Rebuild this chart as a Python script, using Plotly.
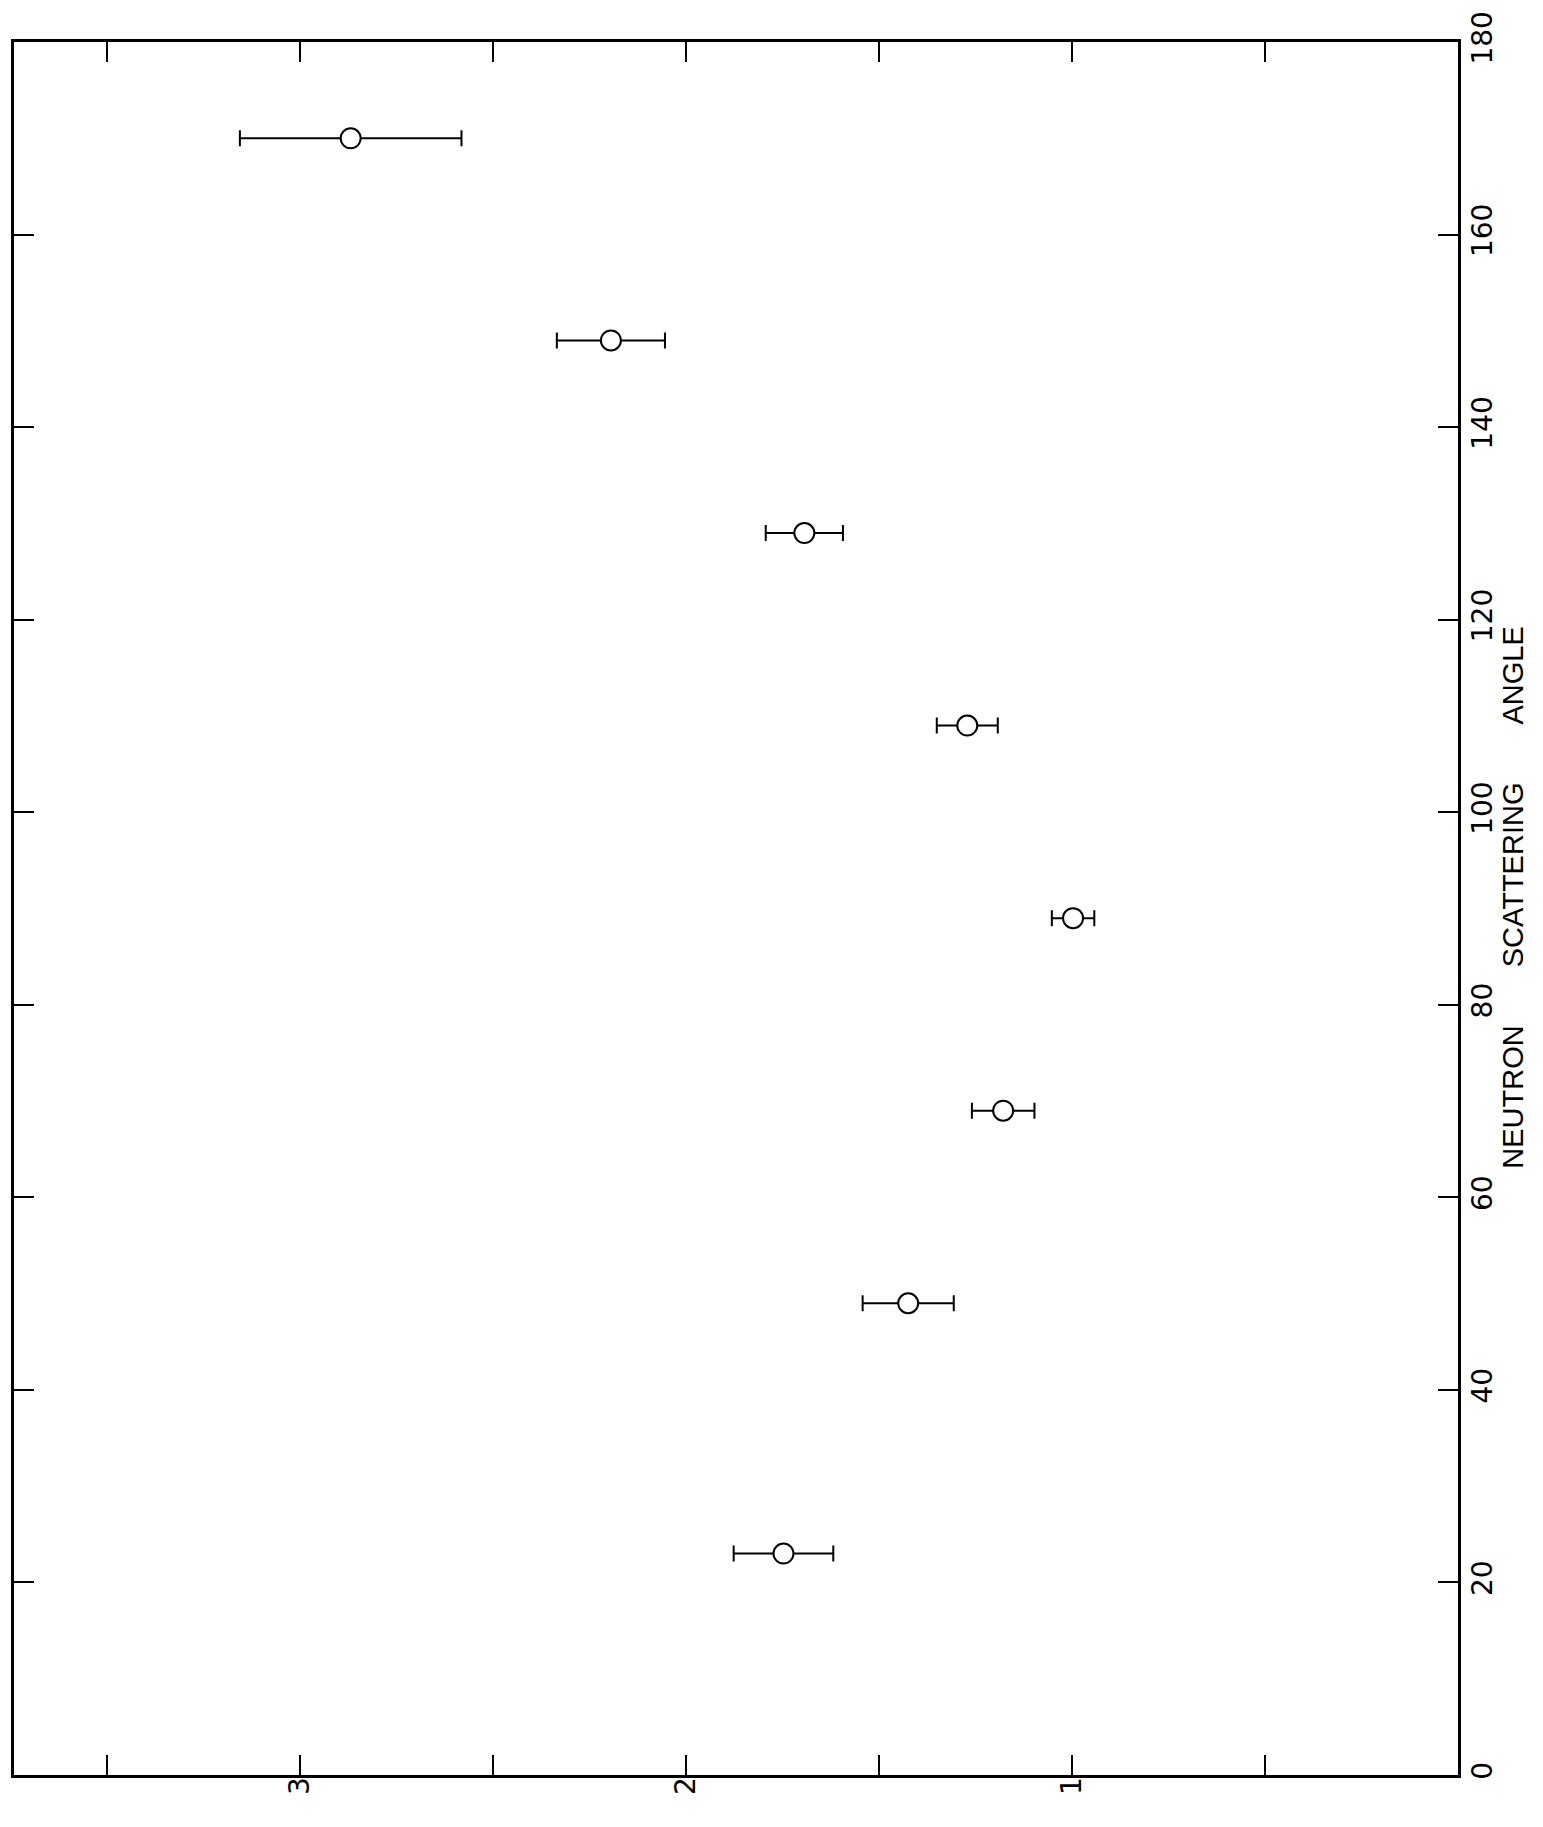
import plotly.graph_objects as go

# Data (angle in degrees, ratio value with +/- error)
angles = [23, 49, 69, 89, 109, 129, 149, 170]
values = [1.747, 1.424, 1.178, 0.997, 1.271, 1.693, 2.194, 2.868]
errors = [0.129, 0.118, 0.081, 0.055, 0.079, 0.100, 0.140, 0.287]

value_tickvals = [0.5, 1, 1.5, 2, 2.5, 3, 3.5]
value_ticktext = ["", "1", "", "2", "", "3", ""]
angle_tickvals = [0, 20, 40, 60, 80, 100, 120, 140, 160, 180]
angle_ticktext = ["0", "20", "40", "60", "80", "100", "120", "140", "160", "180"]
title_text = "NEUTRON\u2003\u2003SCATTERING\u2003\u2003ANGLE"

FONT = "DejaVu Sans"
TFONT = "Liberation Sans"

fig = go.Figure()
fig.add_trace(go.Scatter(
    x=values, y=angles, mode="markers",
    marker=dict(symbol="circle", size=20, color="white",
                line=dict(color="black", width=2)),
    error_x=dict(type="data", array=errors, visible=True,
                 color="black", thickness=2, width=8),
    showlegend=False, cliponaxis=False,
))

# page body has an 8px margin: size the figure so no scrollbars appear
fig.update_layout(
    width=1527, height=1811,
    paper_bgcolor="white", plot_bgcolor="white",
    margin=dict(l=3, r=77, t=34, b=44),
    font=dict(family=FONT, color="black", size=28),
    xaxis=dict(
        range=[3.74, 0], tickvals=value_tickvals, ticktext=value_ticktext,
        tickangle=-90, ticks="inside", ticklen=20, tickwidth=2,
        tickcolor="black", showline=True, linecolor="black", linewidth=3,
        mirror="ticks", showgrid=False, zeroline=False,
        tickfont=dict(size=28, family=FONT), ticklabelstandoff=-12,
    ),
    yaxis=dict(
        range=[0, 180], side="right", tickvals=angle_tickvals,
        ticktext=angle_ticktext, tickangle=-90, ticks="inside",
        ticklen=20, tickwidth=2, tickcolor="black", showline=True,
        linecolor="black", linewidth=3, mirror="ticks", showgrid=False,
        zeroline=False, tickfont=dict(size=28, family=FONT),
        ticklabelstandoff=-3,
    ),
    annotations=[dict(
        text=title_text, xref="paper", yref="paper", x=1.0385, y=0.506,
        xanchor="center", yanchor="middle", textangle=-90, showarrow=False,
        font=dict(size=29, family=TFONT, color="black"),
    )],
)

fig.write_html("out.html")
